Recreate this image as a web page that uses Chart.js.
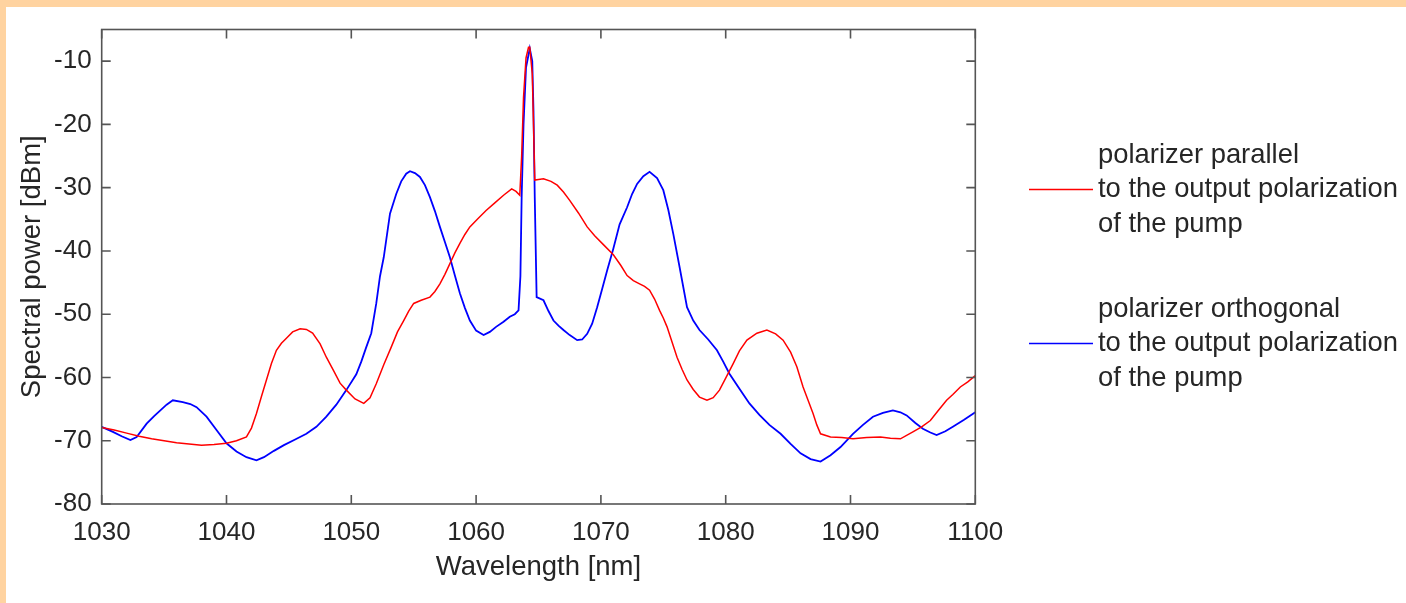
<!DOCTYPE html>
<html>
<head>
<meta charset="utf-8">
<script src="https://cdn.jsdelivr.net/npm/chart.js@4"></script>
<style>
  html, body { margin: 0; padding: 0; background: #ffffff; }
  #wrap { position: relative; width: 1406px; height: 603px; overflow: hidden; background: #ffffff; }
  #top { position: absolute; left: 0; top: 0; width: 1406px; height: 7px; background: #FFD3A0; }
  #left { position: absolute; left: 0; top: 0; width: 6px; height: 603px; background: #FFD3A0; }
  canvas { position: absolute; left: 0; top: 0; }
</style>
</head>
<body>
<div id="wrap">
  <div id="top"></div>
  <div id="left"></div>
  <canvas id="c" width="1406" height="603"></canvas>
</div>
<script>
// ---- data ----
const xTicks = [1030, 1040, 1050, 1060, 1070, 1080, 1090, 1100];
const yTicks = [-80, -70, -60, -50, -40, -30, -20, -10];

const legendParallel = ["polarizer parallel", "to the output polarization", "of the pump"];
const legendOrthogonal = ["polarizer orthogonal", "to the output polarization", "of the pump"];

const redWl = [1030,1031,1032,1033,1034,1035,1036,1037,1038,1039,1040,1040.8,1041.6,1042.0,1042.4,1042.8,1043.2,1043.6,1044.0,1044.4,1044.8,1045.3,1045.9,1046.4,1046.9,1047.5,1048.0,1048.6,1049.1,1049.6,1050.3,1051.0,1051.5,1052.0,1052.6,1053.2,1053.7,1054.2,1054.6,1055.0,1055.6,1056.3,1056.7,1057.1,1057.5,1057.9,1058.3,1058.7,1059.1,1059.5,1060.1,1060.8,1061.5,1062.2,1062.85,1063.2,1063.5,1063.65,1063.8,1064.0,1064.2,1064.3,1064.5,1064.6,1064.7,1065.0,1065.4,1066.0,1066.5,1067.0,1067.5,1068.2,1068.9,1069.5,1070.2,1071.0,1071.6,1072.1,1072.6,1073.1,1073.5,1073.9,1074.3,1074.7,1075.0,1075.3,1075.7,1076.1,1076.5,1076.9,1077.4,1077.9,1078.5,1079.0,1079.5,1080.0,1080.6,1081.1,1081.7,1082.5,1083.3,1084.0,1084.6,1085.2,1085.7,1086.2,1086.6,1087.0,1087.3,1087.6,1088.4,1089.3,1090.2,1091.3,1092.4,1093.2,1094.0,1095.0,1095.7,1096.4,1097.0,1097.7,1098.2,1098.8,1099.4,1100];
const redDbm = [-67.9,-68.3,-68.8,-69.3,-69.7,-70.0,-70.3,-70.5,-70.7,-70.6,-70.4,-70.0,-69.4,-68.0,-65.7,-63.0,-60.4,-57.8,-55.7,-54.6,-53.8,-52.8,-52.3,-52.4,-53.0,-54.7,-56.8,-59.0,-60.9,-62.0,-63.4,-64.1,-63.2,-61.0,-58.0,-55.2,-52.8,-51.0,-49.5,-48.3,-47.8,-47.3,-46.4,-45.2,-43.7,-42.0,-40.3,-38.8,-37.4,-36.2,-35.0,-33.6,-32.4,-31.2,-30.2,-30.6,-31.2,-25.0,-15.7,-9.5,-7.8,-7.8,-12.0,-20.0,-28.8,-28.7,-28.6,-29.0,-29.6,-30.7,-32.0,-34.0,-36.2,-37.6,-39.0,-40.6,-42.3,-43.9,-44.7,-45.2,-45.6,-46.2,-47.6,-49.4,-50.6,-52.0,-54.4,-56.8,-58.7,-60.4,-61.9,-63.1,-63.6,-63.2,-62.0,-60.1,-57.8,-55.8,-54.1,-53.0,-52.5,-53.1,-54.1,-56.0,-58.3,-61.5,-63.6,-65.7,-67.5,-68.9,-69.4,-69.5,-69.7,-69.5,-69.4,-69.6,-69.7,-68.6,-67.8,-66.8,-65.3,-63.6,-62.7,-61.5,-60.7,-59.7];

const blueWl = [1030,1030.9,1031.6,1032.3,1032.8,1033.6,1034.2,1034.7,1035.2,1035.7,1036.5,1037.1,1037.6,1038.4,1039.2,1040.0,1040.8,1041.6,1042.4,1043.0,1043.8,1044.6,1045.5,1046.4,1047.2,1048.0,1048.8,1049.6,1050.4,1050.8,1051.2,1051.6,1052.0,1052.3,1052.6,1053.1,1053.6,1054.0,1054.4,1054.7,1055.1,1055.5,1055.9,1056.3,1056.7,1057.1,1057.5,1057.9,1058.3,1058.7,1059.1,1059.5,1060.0,1060.6,1061.1,1061.6,1062.2,1062.7,1063.1,1063.4,1063.55,1063.65,1063.8,1064.0,1064.3,1064.5,1064.6,1064.7,1064.85,1065.4,1065.8,1066.2,1066.6,1067.0,1067.5,1068.1,1068.5,1068.9,1069.3,1069.7,1070.1,1070.5,1071.0,1071.5,1072.1,1072.5,1072.9,1073.4,1073.9,1074.5,1075.0,1075.4,1075.8,1076.3,1076.9,1077.4,1077.9,1078.6,1079.3,1079.8,1080.3,1081.1,1081.9,1082.7,1083.5,1084.4,1085.2,1086.0,1086.8,1087.6,1088.4,1089.2,1090.2,1091.0,1091.8,1092.6,1093.4,1094.0,1094.5,1095.2,1095.8,1096.4,1096.9,1097.6,1098.2,1099.1,1100];
const blueDbm = [-67.8,-68.6,-69.3,-69.9,-69.4,-67.3,-66.1,-65.2,-64.3,-63.6,-63.9,-64.2,-64.7,-66.2,-68.3,-70.4,-71.7,-72.6,-73.1,-72.6,-71.6,-70.7,-69.8,-68.9,-67.8,-66.2,-64.3,-62.0,-59.5,-57.5,-55.2,-53.0,-48.3,-44.0,-41.0,-34.1,-31.0,-29.0,-27.8,-27.4,-27.7,-28.3,-29.6,-31.5,-33.7,-36.2,-38.6,-41.0,-43.9,-46.7,-49.0,-51.0,-52.6,-53.3,-52.8,-52.0,-51.2,-50.4,-50.0,-49.4,-44.0,-31.5,-20.0,-11.0,-8.0,-10.0,-18.0,-31.5,-47.3,-47.8,-49.5,-51.0,-51.8,-52.5,-53.3,-54.1,-54.0,-53.1,-51.5,-48.9,-46.0,-43.1,-39.6,-35.8,-33.1,-31.0,-29.4,-28.2,-27.5,-28.5,-30.4,-33.5,-37.3,-42.5,-48.9,-51.0,-52.5,-54.0,-55.7,-57.5,-59.4,-61.8,-64.1,-65.9,-67.5,-68.9,-70.5,-72.0,-72.9,-73.3,-72.3,-71.0,-68.9,-67.5,-66.2,-65.6,-65.2,-65.5,-66.0,-67.2,-68.1,-68.7,-69.1,-68.5,-67.8,-66.7,-65.5];

// ---- chart ----
const FONT = "'Liberation Sans', Arial, Helvetica, sans-serif";
const AXIS_COLOR = '#555555';
const TEXT_COLOR = '#262626';

const framePlugin = {
  id: 'frame',
  afterDraw(chart) {
    const ctx = chart.ctx;
    const a = chart.chartArea;
    const xs = chart.scales.x, ys = chart.scales.y;
    ctx.save();
    ctx.strokeStyle = AXIS_COLOR;
    ctx.lineWidth = 1.6;
    ctx.strokeRect(a.left, a.top, a.right - a.left, a.bottom - a.top);
    const tl = 9;
    ctx.beginPath();
    xTicks.forEach(v => {
      const px = xs.getPixelForValue(v);
      ctx.moveTo(px, a.bottom); ctx.lineTo(px, a.bottom - tl);
      ctx.moveTo(px, a.top); ctx.lineTo(px, a.top + tl);
    });
    yTicks.forEach(v => {
      const py = ys.getPixelForValue(v);
      ctx.moveTo(a.left, py); ctx.lineTo(a.left + tl, py);
      ctx.moveTo(a.right, py); ctx.lineTo(a.right - tl, py);
    });
    ctx.stroke();

    // legend
    const groups = [
      { lines: legendParallel, color: '#FF0000', y0: 155 },
      { lines: legendOrthogonal, color: '#0000FF', y0: 309 }
    ];
    const step = 34.5;
    ctx.font = '27.4px ' + FONT;
    ctx.textBaseline = 'middle';
    ctx.textAlign = 'left';
    groups.forEach(g => {
      ctx.strokeStyle = g.color;
      ctx.lineWidth = 1.6;
      ctx.beginPath();
      ctx.moveTo(1029, g.y0 + step);
      ctx.lineTo(1093, g.y0 + step);
      ctx.stroke();
      ctx.fillStyle = TEXT_COLOR;
      g.lines.forEach((t, i) => ctx.fillText(t, 1098, g.y0 + i * step));
    });
    ctx.restore();
  }
};

new Chart(document.getElementById('c'), {
  type: 'line',
  data: {
    datasets: [
      {
        label: legendParallel.join(' '),
        data: redWl.map((x, i) => ({ x: x, y: redDbm[i] })),
        borderColor: '#FF0000',
        borderWidth: 1.5,
        pointRadius: 0,
        tension: 0,
        fill: false
      },
      {
        label: legendOrthogonal.join(' '),
        data: blueWl.map((x, i) => ({ x: x, y: blueDbm[i] })),
        borderColor: '#0000FF',
        borderWidth: 1.8,
        pointRadius: 0,
        tension: 0,
        fill: false
      }
    ]
  },
  options: {
    responsive: false,
    animation: false,
    devicePixelRatio: 1,
    layout: { padding: { left: 0, right: 430.7, top: 29.5, bottom: 0 } },
    plugins: { legend: { display: false }, tooltip: { enabled: false } },
    scales: {
      x: {
        type: 'linear',
        min: 1030, max: 1100,
        afterBuildTicks: s => { s.ticks = xTicks.map(v => ({ value: v })); },
        afterFit: s => { s.height = 99; },
        grid: { display: false, drawTicks: false },
        border: { display: false },
        ticks: {
          color: TEXT_COLOR, padding: 13, maxRotation: 0, autoSkip: false,
          font: { family: FONT, size: 26 },
          callback: v => String(v)
        },
        title: {
          display: true, text: 'Wavelength [nm]', color: TEXT_COLOR,
          font: { family: FONT, size: 27.5, lineHeight: 1.2 },
          padding: { top: 0, bottom: 19 }
        }
      },
      y: {
        type: 'linear',
        min: -80, max: -5,
        afterBuildTicks: s => { s.ticks = yTicks.map(v => ({ value: v })); },
        afterFit: s => { s.width = 101.7; },
        grid: { display: false, drawTicks: false },
        border: { display: false },
        ticks: {
          color: TEXT_COLOR, padding: 10, autoSkip: false,
          font: { family: FONT, size: 26 },
          callback: v => String(v)
        },
        title: {
          display: true, text: 'Spectral power [dBm]', color: TEXT_COLOR,
          font: { family: FONT, size: 27.5, lineHeight: 1.2 },
          padding: { top: 16, bottom: 0 }
        }
      }
    }
  },
  plugins: [framePlugin]
});
</script>
</body>
</html>
